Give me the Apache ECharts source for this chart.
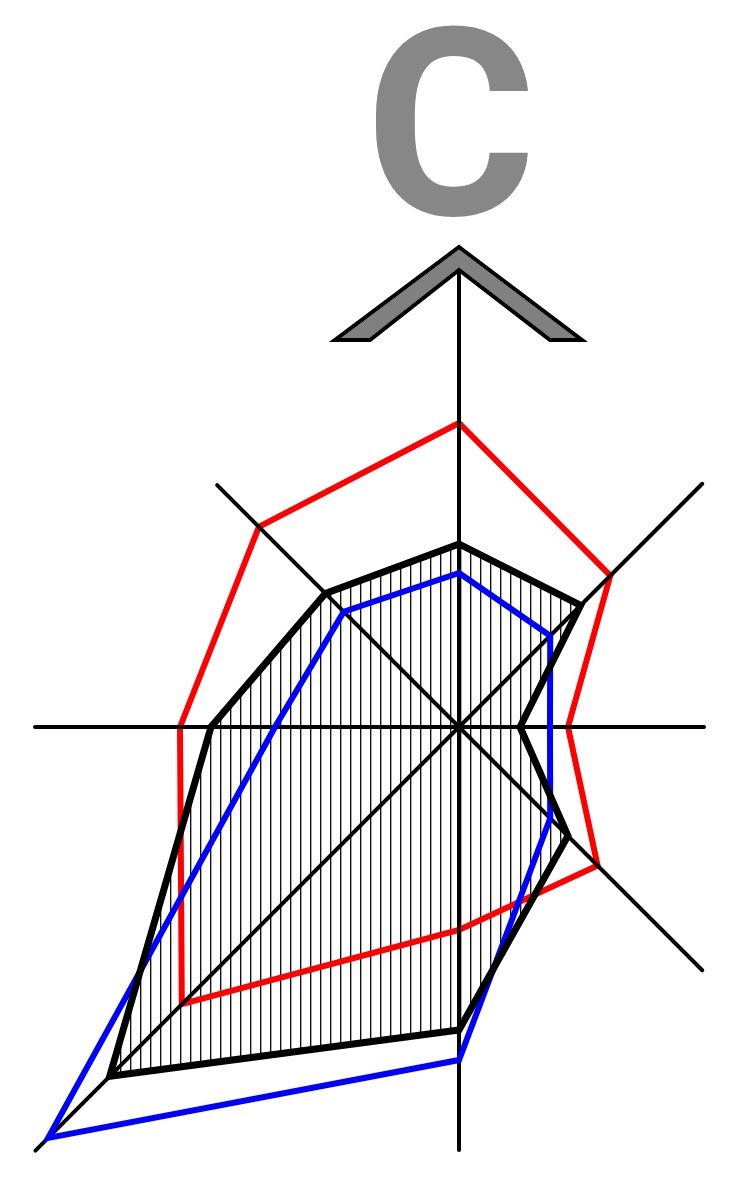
<!DOCTYPE html>
<html>
<head>
<meta charset="utf-8">
<title>C</title>
<script src="https://cdn.jsdelivr.net/npm/echarts@6/dist/echarts.min.js"></script>
<style>
  html, body { margin: 0; padding: 0; background: #fff; }
  #main { width: 747px; height: 1188px; }
</style>
</head>
<body>
<div id="main"></div>
<script>
// spokes, clockwise from the top
var directions = ['N', 'NE', 'E', 'SE', 'S', 'SW', 'W', 'NW'];
var angles = [90, 45, 0, -45, -90, -135, 180, 135];
var axisLength = [45.7, 34.4, 24.5, 34.4, 42.3, 59.9, 42.4, 34.2];

var redValues = [30.4, 21.4, 10.9, 19.6, 20.3, 39.2, 27.9, 28.3];
var blackValues = [18.3, 17.2, 6.1, 15.4, 30.3, 49.4, 24.8, 18.9];
var blueValues = [15.4, 12.9, 9.1, 12.9, 33.3, 58.1, 18.4, 16.3];

// arrow head on top of the N spoke (same units as the spokes)
var arrowHead = [[0, 48.0], [12.3, 38.7], [9.1, 38.7], [0, 45.7], [-8.9, 38.7], [-12.4, 38.7]];

function toXY(r, deg) {
  var a = deg * Math.PI / 180;
  return [r * Math.cos(a), r * Math.sin(a)];
}
function points(values) {
  return values.map(function (v, i) { return toXY(v, angles[i]); });
}

// vertical hatching for the black area
var hatch = document.createElement('canvas');
hatch.width = 10;
hatch.height = 10;
var hctx = hatch.getContext('2d');
hctx.fillStyle = '#111';
hctx.fillRect(0, 0, 1, 10);
hctx.fillStyle = 'rgba(0,0,0,0.35)';
hctx.fillRect(1, 0, 1, 10);

function polygonSeries(name, pts, style, z) {
  return {
    name: name,
    type: 'custom',
    z: z,
    silent: true,
    data: pts,
    renderItem: function (params, api) {
      if (params.dataIndex !== 0) return;
      return {
        type: 'polygon',
        shape: { points: pts.map(function (p) { return api.coord(p); }) },
        style: style
      };
    }
  };
}

var myChart = echarts.init(document.getElementById('main'));
var option = {
  animation: false,
  backgroundColor: '#fff',
  title: {
    text: 'C',
    left: 365,
    top: 18,
    padding: 0,
    textStyle: { fontSize: 262, fontWeight: 'bold', color: '#878787', fontFamily: 'Roboto' }
  },
  grid: { left: 0, right: 0, top: 0, bottom: 0 },
  xAxis: { type: 'value', min: -45.9, max: 28.8, show: false },
  yAxis: { type: 'value', min: -46.1, max: 72.7, show: false },
  series: [
    polygonSeries('hatch', points(blackValues), { fill: { image: hatch, repeat: 'repeat' }, stroke: null }, 1),
    polygonSeries('red', points(redValues), { fill: null, stroke: '#ff0000', lineWidth: 6, lineJoin: 'miter' }, 2),
    {
      name: 'axes',
      type: 'custom',
      z: 3,
      silent: true,
      data: points(axisLength),
      renderItem: function (params, api) {
        var o = api.coord([0, 0]);
        var p = api.coord([api.value(0), api.value(1)]);
        return {
          type: 'line',
          shape: { x1: o[0], y1: o[1], x2: p[0], y2: p[1] },
          style: { stroke: '#000', lineWidth: 4, lineCap: 'round' }
        };
      }
    },
    polygonSeries('blue', points(blueValues), { fill: null, stroke: '#0000ff', lineWidth: 6, lineJoin: 'miter' }, 4),
    polygonSeries('black', points(blackValues), { fill: null, stroke: '#000', lineWidth: 7, lineJoin: 'miter' }, 5),
    polygonSeries('arrow', arrowHead, { fill: '#808080', stroke: '#000', lineWidth: 4, lineJoin: 'miter' }, 6)
  ]
};
myChart.setOption(option);
</script>
</body>
</html>
